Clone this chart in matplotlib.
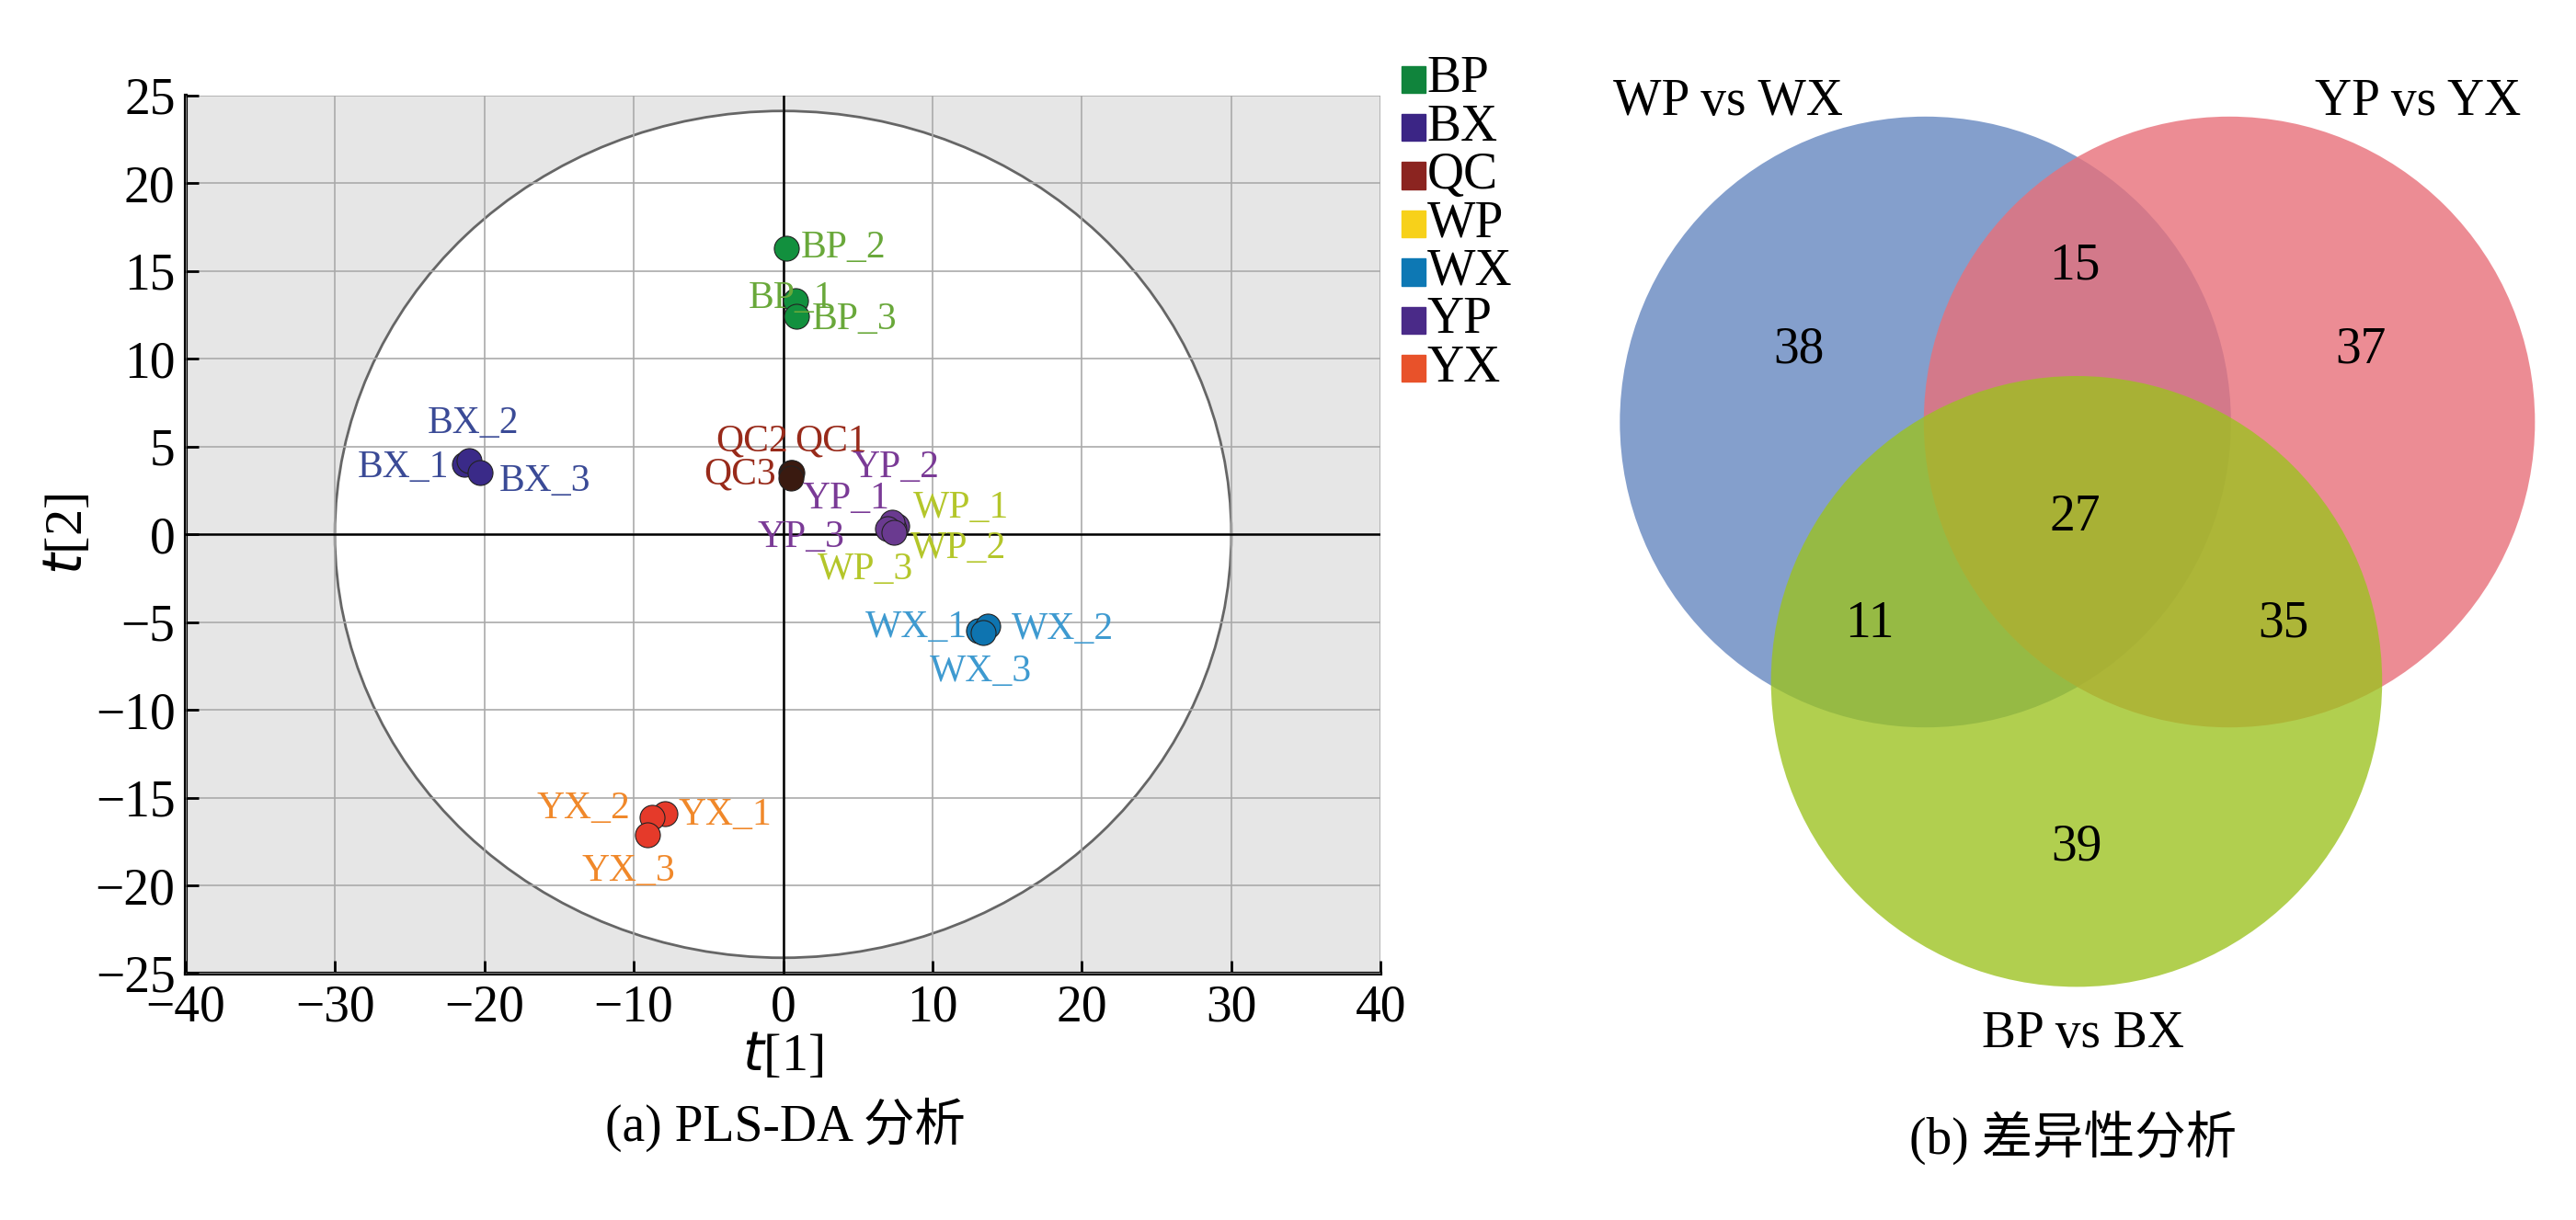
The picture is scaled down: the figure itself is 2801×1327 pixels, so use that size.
import numpy as np
import matplotlib.pyplot as plt
from matplotlib.patches import Ellipse, Circle, Rectangle

plt.rcParams['font.family'] = ['Liberation Serif', 'Noto Sans CJK SC']

groups = ['BP', 'BX', 'QC', 'WP', 'WX', 'YP', 'YX']
group_colors = ['#10843c', '#3b2585', '#8b2420', '#f7d11a', '#0d78b4', '#4a2a88', '#e8522a']
point_colors = ['#12903e', '#3a2a88', '#3a1a10', '#6a3a90', '#0e74b0', '#6a3a90', '#e53a2a']
label_colors = ['#69a83a', '#3a4a96', '#982a1a', '#b4c62a', '#3e9ad0', '#7a3a96', '#f0882a']
t1 = {'BP': [0.8, 0.2, 0.9], 'BX': [-21.3, -21.0, -20.3], 'QC': [0.5, 0.6, 0.5],
      'WP': [7.6, 7.3, 7.4], 'WX': [13.1, 13.7, 13.4], 'YP': [7.3, 7.0, 7.4],
      'YX': [-7.9, -8.8, -9.1]}
t2 = {'BP': [13.3, 16.3, 12.4], 'BX': [4.0, 4.2, 3.5], 'QC': [3.5, 3.5, 3.2],
      'WP': [0.5, 0.2, 0.3], 'WX': [-5.5, -5.2, -5.6], 'YP': [0.7, 0.3, 0.1],
      'YX': [-15.9, -16.1, -17.1]}
names = {'BP': ['BP_1', 'BP_2', 'BP_3'], 'BX': ['BX_1', 'BX_2', 'BX_3'],
         'QC': ['QC1', 'QC2', 'QC3'], 'WP': ['WP_1', 'WP_2', 'WP_3'],
         'WX': ['WX_1', 'WX_2', 'WX_3'], 'YP': ['YP_1', 'YP_2', 'YP_3'],
         'YX': ['YX_1', 'YX_2', 'YX_3']}
# label offsets in data units (left edge of text)
offs = {'BP': [(-3.1, 0.1), (1, 0), (1, -0.2)], 'BX': [(-7.2, -0.2), (-2.8, 2.1), (1.3, -0.5)],
        'QC': [(0.3, 1.8), (-5.1, 1.8), (-5.8, 0.2)], 'WP': [(1.1, 1.0), (1.2, -1.0), (-5.1, -2.3)],
        'WX': [(-7.6, 0.2), (1.6, -0.2), (-3.6, -2.2)], 'YP': [(-6.0, 1.3), (-2.4, 3.5), (-9.1, -0.3)],
        'YX': [(0.9, -0.1), (-7.7, 0.5), (-4.4, -2.1)]}

venn_sets = ['WP vs WX', 'YP vs YX', 'BP vs BX']
venn_counts = [38, 37, 39, 15, 11, 35, 27]

fig = plt.figure(figsize=(28.01, 13.27), dpi=100)
ax = fig.add_axes([0.072, 0.202, 0.464, 0.72])
ax.set_facecolor('#e6e6e6')
ax.add_patch(Ellipse((0, 0), 60, 48.2, facecolor='white', edgecolor='#666666', lw=2, zorder=1))
ax.set_xlim(-40, 40)
ax.set_ylim(-25, 25)
ax.set_xticks(np.arange(-40, 41, 10))
ax.set_yticks(np.arange(-25, 26, 5))
ax.grid(color='#aaaaaa', lw=1.2, zorder=2)
ax.set_axisbelow(False)
ax.axhline(0, color='black', lw=1.8, zorder=3)
ax.axvline(0, color='black', lw=1.8, zorder=3)
for s in ['top', 'right']:
    ax.spines[s].set_visible(False)
for s in ['left', 'bottom']:
    ax.spines[s].set_linewidth(3)
ax.tick_params(labelsize=40, direction='in', length=10, width=2, pad=8)
ax.set_xlabel('$t$[1]', fontsize=42, labelpad=0)
ax.set_ylabel('$t$[2]', fontsize=42, labelpad=2)

for g, pc, lc in zip(groups, point_colors, label_colors):
    ax.scatter(t1[g], t2[g], s=380, color=pc, edgecolor='#222222', lw=0.8, zorder=5)
    for x, y, n, (dx, dy) in zip(t1[g], t2[g], names[g], offs[g]):
        ax.text(x + dx, y + dy, n, color=lc, fontsize=30, va='center', zorder=6)

for i, (g, c) in enumerate(zip(groups, group_colors)):
    yy = 0.935 - i * 0.0395
    fig.patches.append(Rectangle((0.544, yy - 0.011), 0.0095, 0.022, color=c,
                                 transform=fig.transFigure))
    fig.text(0.554, yy, g, fontsize=40, va='center')

fig.text(0.305, 0.065, '(a) PLS-DA 分析', fontsize=40, ha='center')

# Venn, drawn in a pixel-like frame of 1568 x 743
va = fig.add_axes([0.6, 0, 0.4, 1])
va.set_xlim(940.8, 1568)
va.set_ylim(743, 0)
va.axis('off')
va.add_patch(Circle((1172, 257), 186, color='#5b7fbc', alpha=0.75, lw=0))
va.add_patch(Circle((1357, 257), 186, color='#e8707a', alpha=0.8, lw=0))
va.add_patch(Circle((1264, 415), 186, color='#9cc21e', alpha=0.78, lw=0))
pos = [(1095, 213), (1437, 213), (1264, 516), (1263, 162), (1138, 380), (1390, 380), (1263, 315)]
for (x, y), v in zip(pos, venn_counts):
    va.text(x, y, str(v), fontsize=40, ha='center', va='center')
va.text(1052, 62, venn_sets[0], fontsize=40, ha='center', va='center')
va.text(1472, 62, venn_sets[1], fontsize=40, ha='center', va='center')
va.text(1268, 630, venn_sets[2], fontsize=40, ha='center', va='center')
va.text(1262, 693, '(b) 差异性分析', fontsize=40, ha='center', va='center')

fig.savefig('out.png', dpi=100)
